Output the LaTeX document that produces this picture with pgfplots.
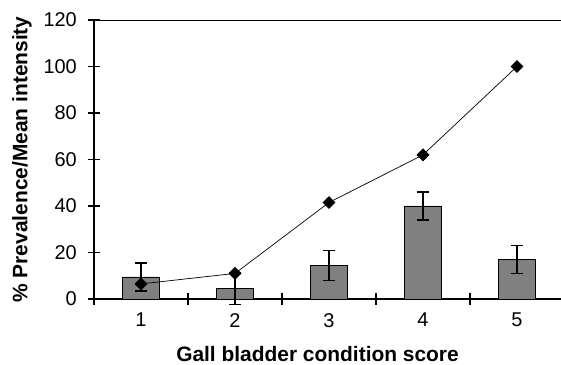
\documentclass[border=0pt]{standalone}
\usepackage{pgfplots}
\pgfplotsset{compat=1.18}
\usepackage{fontspec}
\setmainfont{Liberation Sans}
\definecolor{barfill}{RGB}{128,128,128}
\newcommand{\tl}{\fontsize{20}{20}\selectfont}
\begin{document}
\begin{tikzpicture}
\useasboundingbox (-94bp,-66bp) rectangle (467bp,299bp);
\begin{axis}[
  at={(0,0)}, anchor=origin,
  scale only axis,
  width=467bp, height=279bp,
  xmin=0.5, xmax=5.468,
  ymin=0, ymax=120,
  clip=false,
  axis x line*=bottom, axis y line*=left,
  axis line style={-, line width=1.4bp},
  ytick={0,20,...,120},
  yticklabel={\tl\pgfmathprintnumber[assume math mode=true]{\tick}},
  xtick={0.5,1.5,2.5,3.5,4.5},
  xticklabels={},
  extra x ticks={1,2,3,4,5},
  extra x tick labels={{\tl 1},{\tl 2},{\tl 3},{\tl 4},{\tl 5}},
  extra x tick style={major tick length=0pt},
  tick align=center,
  major tick length=12bp,
  tick style={line width=1.4bp, black},
  /pgf/number format/assume math mode=true,
  yticklabel style={anchor=east, inner sep=0pt, xshift=-11bp, font=\tl},
  xticklabel style={anchor=north, inner sep=0pt, yshift=-14bp, font=\tl},
  xlabel={Gall bladder condition score},
  ylabel={\% Prevalence/Mean intensity},
  label style={font=\bfseries\fontsize{21}{21}\selectfont},
  xlabel style={at={(axis description cs:0.4786,-0.2258)}, anchor=base, inner sep=0pt},
  ylabel style={at={(axis description cs:-0.1756,0.5)}, anchor=north, inner sep=0pt},
]
\addplot[ybar, bar width=37.7bp, fill=barfill, draw=black, line width=0.8bp,
  error bars/.cd, y dir=both, y explicit,
  error bar style={line width=1.3bp, black},
  error mark options={rotate=90, mark size=6bp, line width=1.3bp, black}]
  table[x=x, y=y, y error=e] {
x y e
1 9.5 6
2 4.5 6.8
3 14.5 6.5
4 40 6
5 17 6
};
\addplot[black, line width=0.7bp, mark=square*, mark size=4.2bp, mark options={fill=black, rotate=45}]
  table[x=x, y=y] {
x y
1 6.5
2 11
3 41.5
4 62
5 100
};
\draw[line width=0.8bp] (rel axis cs:0,1) -- (rel axis cs:1,1);
\end{axis}
\end{tikzpicture}
\end{document}
